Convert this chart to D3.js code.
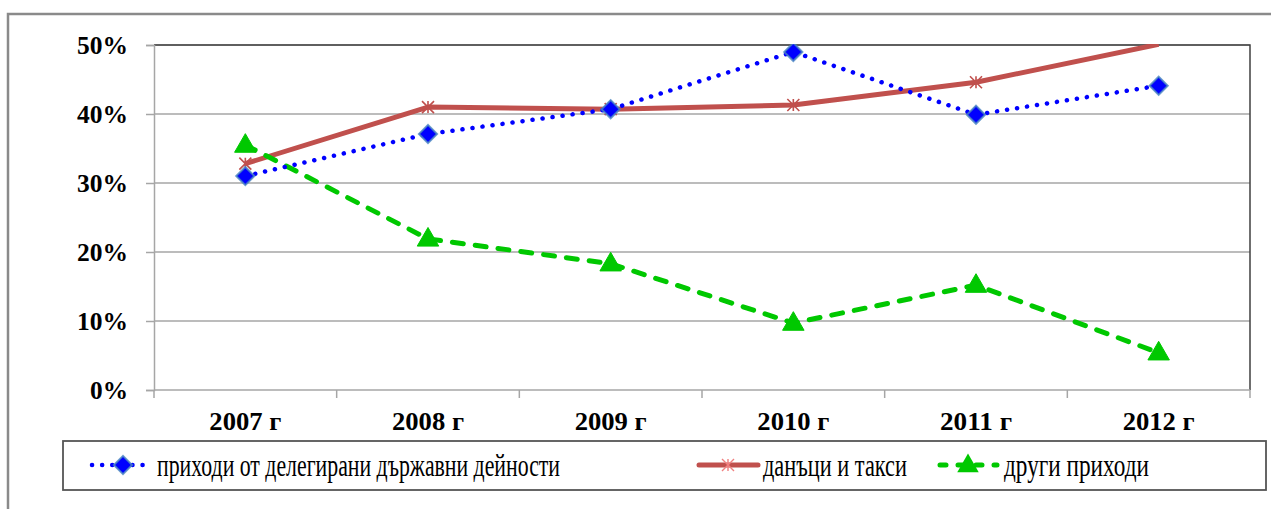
<!DOCTYPE html>
<html><head><meta charset="utf-8">
<script src="https://cdn.jsdelivr.net/npm/d3@7"></script>
<style>html,body{margin:0;padding:0;background:#fff;}svg{display:block;}
text{font-family:"Liberation Serif","Times New Roman",serif;}</style>
</head><body>
<svg id="chart" width="1271" height="509"></svg>
<script>
const categories = ["2007 г","2008 г","2009 г","2010 г","2011 г","2012 г"];
const delegated = [31.0, 37.1, 40.7, 49.0, 39.9, 44.1];
const taxes = [32.8, 41.0, 40.7, 41.3, 44.6, 50.1];
const other = [35.5, 21.9, 18.3, 9.7, 15.2, 5.4];
const yTicks = [0, 10, 20, 30, 40, 50];
const seriesNames = ["приходи от делегирани държавни дейности", "данъци и такси", "други приходи"];

const FONT = "Liberation Serif";
const svg = d3.select("#chart");
const L = 154, R = 1250, T = 45, B = 390;
const x = d3.scaleBand().domain(categories).range([L, R]);
const y = d3.scaleLinear().domain([0, 50]).range([B, T]);
const cx = c => x(c) + x.bandwidth() / 2;

// outer frame
svg.append("rect").attr("x", 8).attr("y", 14).attr("width", 1300).attr("height", 600)
  .attr("fill", "none").attr("stroke", "#8a8a8a").attr("stroke-width", 2.5);

// gridlines
svg.append("g").selectAll("line").data(yTicks.filter(t => t > 0)).join("line")
  .attr("x1", L).attr("x2", R).attr("y1", d => y(d)).attr("y2", d => y(d))
  .attr("stroke", "#a6a6a6").attr("stroke-width", 1.5);
// plot area border (top, right)
svg.append("path").attr("d", `M${L},${T}H${R}V${B}`).attr("fill", "none")
  .attr("stroke", "#404040").attr("stroke-width", 1.5);

// y axis
const yAxis = d3.axisLeft(y).tickValues(yTicks).tickFormat(d => d + "%").tickSize(8).tickPadding(18);
const gy = svg.append("g").attr("transform", `translate(${L},0)`).call(yAxis);
gy.attr("font-family", FONT);
gy.select(".domain").attr("stroke", "#a6a6a6").attr("stroke-width", 1.5);
gy.selectAll(".tick line").attr("stroke", "#a6a6a6").attr("stroke-width", 1.5);
gy.selectAll(".tick text").attr("font-family", FONT)
  .attr("font-weight", "bold").attr("font-size", 25.5).attr("fill", "#000").attr("dy", "0.34em");

// x axis (ticks at band boundaries)
svg.append("line").attr("x1", L).attr("x2", R).attr("y1", B).attr("y2", B)
  .attr("stroke", "#a6a6a6").attr("stroke-width", 1.5);
const bounds = categories.map(c => x(c)).concat([R]);
svg.append("g").selectAll("line").data(bounds).join("line")
  .attr("x1", d => d).attr("x2", d => d).attr("y1", B).attr("y2", B + 8)
  .attr("stroke", "#a6a6a6").attr("stroke-width", 1.5);
const xl = svg.append("g").selectAll("text").data(categories).join("text")
  .attr("x", d => cx(d)).attr("y", 430).attr("text-anchor", "middle")
  .attr("font-family", FONT)
  .attr("font-weight", "bold").attr("font-size", 25.5).text(d => d);
xl.each(function () { this.setAttribute("textLength", 72); this.setAttribute("lengthAdjust", "spacingAndGlyphs"); });
const yLabelWidth = { "0%": 38, "10%": 51, "20%": 51, "30%": 51, "40%": 51, "50%": 51 };
gy.selectAll(".tick text").each(function () {
  this.setAttribute("textLength", yLabelWidth[this.textContent]); this.setAttribute("lengthAdjust", "spacingAndGlyphs");
});

// clip
svg.append("clipPath").attr("id", "clip").append("rect")
  .attr("x", L).attr("y", T - 1).attr("width", R - L).attr("height", B - T + 2);
const plot = svg.append("g").attr("clip-path", "url(#clip)");

const pts = vals => categories.map((c, i) => [cx(c), y(vals[i]), vals[i]]);

// symbols
const diamond = d3.symbol().type(d3.symbolSquare).size(165)();
const triangle = d3.symbol().type(d3.symbolTriangle).size(200)();
const r = 6;
const star = `M${-r},${-r}L${r},${r}M${-r},${r}L${r},${-r}M0,${-r}L0,${r}`;

const line = d3.line();

plot.append("path").attr("d", line(pts(taxes))).attr("fill", "none")
  .attr("stroke", "#c0504d").attr("stroke-width", 5).attr("stroke-linejoin", "round");
plot.append("path").attr("d", line(pts(other))).attr("fill", "none")
  .attr("stroke", "#00c800").attr("stroke-width", 5).attr("stroke-dasharray", "11 12")
  .attr("stroke-linecap", "round");
plot.append("path").attr("d", line(pts(delegated))).attr("fill", "none")
  .attr("stroke", "#0000ff").attr("stroke-width", 4.5).attr("stroke-dasharray", "0.1 10")
  .attr("stroke-linecap", "round");

// markers
const inside = p => p[2] <= 50;
plot.append("g").selectAll("path").data(pts(taxes).filter(inside)).join("path")
  .attr("d", star).attr("transform", d => `translate(${d[0]},${d[1]})`)
  .attr("stroke", "#c0504d").attr("stroke-width", 1.6).attr("fill", "none");
plot.append("g").selectAll("path").data(pts(delegated).filter(inside)).join("path")
  .attr("d", diamond).attr("transform", d => `translate(${d[0]},${d[1]}) rotate(45)`)
  .attr("fill", "#0000ff").attr("stroke", "#4a86c0").attr("stroke-width", 2).attr("stroke-opacity", 0.8);
plot.append("g").selectAll("path").data(pts(other).filter(inside)).join("path")
  .attr("d", triangle).attr("transform", d => `translate(${d[0]},${d[1] + 1})`)
  .attr("fill", "#00c800").attr("stroke", "#00c800").attr("stroke-width", 1);

// legend
svg.append("rect").attr("x", 63).attr("y", 441).attr("width", 1203).attr("height", 49)
  .attr("fill", "#fff").attr("stroke", "#555").attr("stroke-width", 1.8);
const ly = 465;
const legendItems = [
  { x0: 92, x1: 148, mx: 123, tx: 157, tw: 403 },
  { x0: 699, x1: 758, mx: 728, tx: 763, tw: 144 },
  { x0: 938, x1: 999, mx: 968, tx: 1004, tw: 145 }
];
const lg = svg.append("g");
lg.append("line").attr("x1", legendItems[0].x0).attr("x2", legendItems[0].x1).attr("y1", ly).attr("y2", ly)
  .attr("stroke", "#0000ff").attr("stroke-width", 4.5).attr("stroke-dasharray", "0.1 10").attr("stroke-linecap", "round");
lg.append("path").attr("d", diamond).attr("transform", `translate(${legendItems[0].mx},${ly}) rotate(45)`)
  .attr("fill", "#0000ff").attr("stroke", "#4a86c0").attr("stroke-width", 2).attr("stroke-opacity", 0.8);
lg.append("line").attr("x1", legendItems[1].x0).attr("x2", legendItems[1].x1).attr("y1", ly).attr("y2", ly)
  .attr("stroke", "#c0504d").attr("stroke-width", 5).attr("stroke-linecap", "round");
lg.append("path").attr("d", star).attr("transform", `translate(${legendItems[1].mx},${ly})`)
  .attr("stroke", "#f08080").attr("stroke-width", 1.4).attr("fill", "none");
lg.append("line").attr("x1", legendItems[2].x0 + 2).attr("x2", legendItems[2].x1 - 2).attr("y1", ly).attr("y2", ly)
  .attr("stroke", "#00c800").attr("stroke-width", 5).attr("stroke-dasharray", "6 12").attr("stroke-linecap", "round");
lg.append("path").attr("d", triangle).attr("transform", `translate(${legendItems[2].mx},${ly + 1})`)
  .attr("fill", "#00c800");
lg.selectAll("text").data(seriesNames).join("text")
  .attr("x", (d, i) => legendItems[i].tx).attr("y", 476)
  .attr("font-family", FONT).attr("font-size", 31).attr("fill", "#000")
  .attr("textLength", (d, i) => legendItems[i].tw).attr("lengthAdjust", "spacingAndGlyphs")
  .text(d => d);
</script>
</body></html>
